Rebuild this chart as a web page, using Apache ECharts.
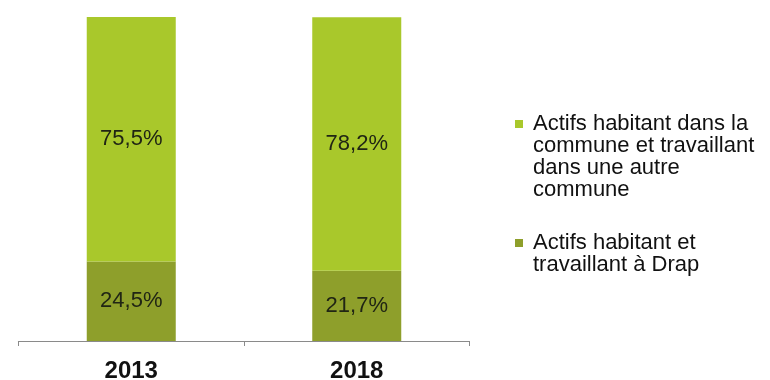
<!DOCTYPE html>
<html>
<head>
<meta charset="utf-8">
<script src="https://cdn.jsdelivr.net/npm/echarts@6/dist/echarts.min.js"></script>
<style>
  html, body { margin: 0; padding: 0; background: #ffffff; }
  #chart { width: 770px; height: 380px; }
</style>
</head>
<body>
<div id="chart"></div>
<script>
// Années
var years = ['2013', '2018'];
// Part des actifs travaillant à Drap (%)
var localShare = [24.5, 21.7];
// Part des actifs travaillant dans une autre commune (%)
var outsideShare = [75.5, 78.2];
// Libellés des séries
var localName = 'Actifs habitant et\ntravaillant à Drap';
var outsideName = 'Actifs habitant dans la\ncommune et travaillant\ndans une autre\ncommune';

var LIGHT = '#a9c82b';
var DARK = '#8e9f2b';
var FONT = 'Liberation Sans, Arial, sans-serif';

function pct(v) {
  return v.toFixed(1).replace('.', ',') + '%';
}

// Blank lines above each legend label so the marker sits beside the first line
function legendLabel(name) {
  var lines = name.split('\n').length;
  return new Array(lines).join('\n') + name;
}

var chart = echarts.init(document.getElementById('chart'), null, { renderer: 'canvas' });

var labelStyle = {
  show: true,
  position: 'inside',
  color: '#202514',
  fontFamily: FONT,
  fontSize: 22,
  formatter: function (p) { return pct(p.value); }
};

chart.setOption({
  animation: false,
  backgroundColor: '#ffffff',
  grid: {
    left: 18.5, right: 300.5, top: 17, bottom: 39,
    containLabel: false,
    outerBoundsMode: 'none'
  },
  xAxis: {
    type: 'category',
    data: years,
    axisLine: { lineStyle: { color: '#8a8a8a', width: 1.2 } },
    axisTick: { show: true, alignWithLabel: false, length: 5, lineStyle: { color: '#8a8a8a' } },
    axisLabel: {
      margin: 18,
      color: '#111111',
      fontFamily: FONT,
      fontWeight: 'bold',
      fontSize: 24
    }
  },
  yAxis: {
    type: 'value',
    min: 0,
    max: 100,
    show: false,
    splitLine: { show: false }
  },
  legend: {
    orient: 'vertical',
    left: 515,
    top: 47,
    padding: 0,
    itemWidth: 8,
    itemHeight: 8,
    itemGap: 9,
    icon: 'rect',
    formatter: legendLabel,
    textStyle: {
      color: '#111111',
      fontFamily: FONT,
      fontSize: 22,
      lineHeight: 22,
      padding: [0, 0, 0, 5]
    },
    data: [outsideName, localName]
  },
  series: [
    {
      name: localName,
      type: 'bar',
      stack: 'total',
      barWidth: 89,
      data: localShare,
      itemStyle: { color: DARK },
      label: labelStyle
    },
    {
      name: outsideName,
      type: 'bar',
      stack: 'total',
      barWidth: 89,
      data: outsideShare,
      itemStyle: { color: LIGHT },
      label: labelStyle
    }
  ]
});
</script>
</body>
</html>
